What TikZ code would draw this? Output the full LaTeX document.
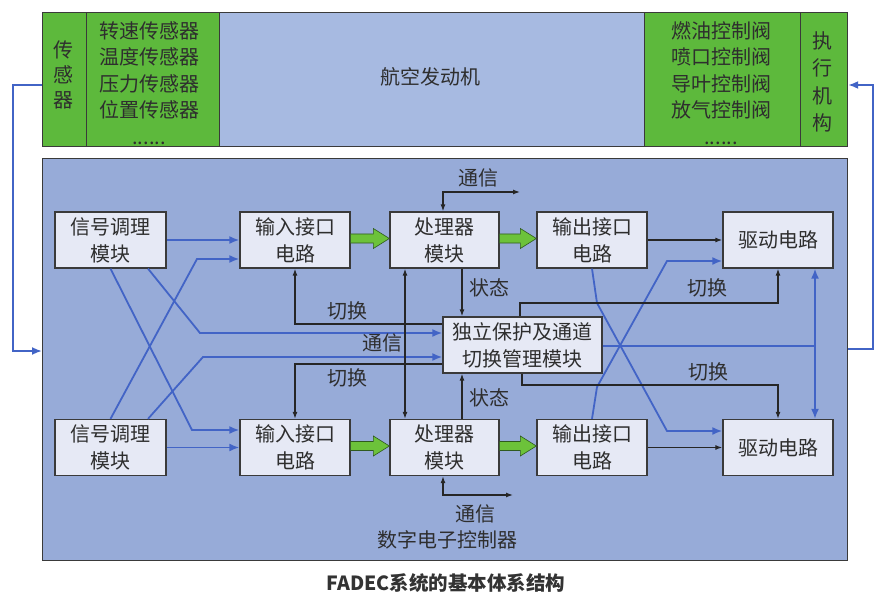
\documentclass[tikz,border=0pt]{standalone}
\usepackage{fontspec}
\setmainfont{Noto Sans CJK SC}
\usetikzlibrary{arrows.meta,calc}
\definecolor{ecublue}{HTML}{97ABD8}
\definecolor{engblue}{HTML}{A7BAE1}
\definecolor{grn}{HTML}{5DB93C}
\definecolor{boxfill}{HTML}{E6E9F5}
\definecolor{lineblue}{HTML}{4264C6}
\definecolor{txt}{HTML}{2E2E2E}
\definecolor{edge}{HTML}{3A3A3A}
\definecolor{garrowfill}{HTML}{6CC23A}
\definecolor{garrowedge}{HTML}{2F5A1F}
\tikzset{
 blk/.style={draw=edge, line width=1.3pt, fill=boxfill, text=txt, align=center,
   font=\fontsize{20}{27}\selectfont, minimum height=56pt, inner sep=0pt},
 band/.style={draw=edge, line width=1.2pt, anchor=north west, inner sep=0pt, minimum height=134pt},
 bl/.style={draw=lineblue, line width=1.8pt, -{Latex[length=10pt,width=8pt]}},
 blb/.style={draw=lineblue, line width=1.8pt, {Latex[length=10pt,width=8pt]}-{Latex[length=10pt,width=8pt]}},
 bln/.style={draw=lineblue, line width=1.8pt},
 bk/.style={draw=black!85, line width=1.2pt, -{Latex[length=7pt,width=5pt]}},
 bkb/.style={draw=black!85, line width=1.2pt, {Latex[length=7pt,width=5pt]}-{Latex[length=7pt,width=5pt]}},
 lbl/.style={text=txt, font=\fontsize{20}{25}\selectfont, inner sep=0pt, align=center},
 garrow/.style={fill=garrowfill, draw=garrowedge, line width=0.6pt},
}
\newcommand\GreenArrow[2]{\path[garrow] let \p1=(#1.east), \p2=(#2.west) in
  (\x1,\y1+6pt) -- (\x2-16pt,\y1+6pt) -- (\x2-16pt,\y1+11.5pt) -- (\x2,\y1+1.5pt)
  -- (\x2-16pt,\y1-8.5pt) -- (\x2-16pt,\y1-3pt) -- (\x1,\y1-3pt) -- cycle;}
\begin{document}
\begin{tikzpicture}[x=1pt,y=-1pt]
\useasboundingbox (0,0) rectangle (878,596);
\fill[white] (0,0) rectangle (878,596);

% top band
\node[band, fill=grn, minimum width=44pt] (sen) at (42,12) {};
\node[band, fill=grn, minimum width=133pt] (senlist) at (86,12) {};
\node[band, fill=engblue, minimum width=425pt] (eng) at (219,12) {};
\node[band, fill=grn, minimum width=156pt] (actlist) at (644,12) {};
\node[band, fill=grn, minimum width=47pt] (act) at (800,12) {};
\node[lbl, font=\fontsize{20}{25}\selectfont] (sentxt) at (63,75) {传\\感\\器};
\node[lbl, font=\fontsize{20}{26.5}\selectfont] (senlisttxt) at (149,83) {转速传感器\\温度传感器\\压力传感器\\位置传感器\\......};
\node[lbl] (engtxt) at (430,77) {航空发动机};
\node[lbl, font=\fontsize{20}{26.5}\selectfont] (actlisttxt) at (721,83) {燃油控制阀\\喷口控制阀\\导叶控制阀\\放气控制阀\\......};
\node[lbl, font=\fontsize{20}{27.5}\selectfont] (acttxt) at (822,82) {执\\行\\机\\构};

% ECU box
\node[draw=edge, line width=1.3pt, fill=ecublue, anchor=north west, inner sep=0pt,
  minimum width=805pt, minimum height=402pt] (ecu) at (42,158) {};
\node[lbl, font=\fontsize{20}{24}\selectfont] (ecutxt) at (447,540) {数字电子控制器};

% blocks top row
\node[blk, minimum width=111pt] (A1) at (110.5,240) {信号调理\\模块};
\node[blk, minimum width=110pt] (I1) at (295,240) {输入接口\\电路};
\node[blk, minimum width=109pt] (P1) at (444.5,240) {处理器\\模块};
\node[blk, minimum width=110pt] (O1) at (592,240) {输出接口\\电路};
\node[blk, minimum width=110pt] (D1) at (778,240) {驱动电路};
% bottom row
\node[blk, minimum width=111pt] (A2) at (110.5,447.5) {信号调理\\模块};
\node[blk, minimum width=110pt] (I2) at (295,447.5) {输入接口\\电路};
\node[blk, minimum width=109pt] (P2) at (444.5,447.5) {处理器\\模块};
\node[blk, minimum width=110pt] (O2) at (592,447.5) {输出接口\\电路};
\node[blk, minimum width=110pt] (D2) at (778,447.5) {驱动电路};
% middle module
\node[blk, minimum width=159pt] (M) at (522.5,345) {独立保护及通道\\切换管理模块};

% green arrows
\GreenArrow{I1}{P1}
\GreenArrow{P1}{O1}
\GreenArrow{I2}{P2}
\GreenArrow{P2}{O2}

% feedback loops
\draw[bl] (sen.west |- 0,85) -- (13,85) -- (13,351) -- (ecu.west |- 0,351);
\draw[bl] (ecu.east |- 0,349) -- (873,349) -- (873,85) -- (act.east |- 0,85);

% blue signal lines (left)
\draw[bl] (A1.east) -- (I1.west);
\draw[bl] (A2.east) -- (I2.west);
\draw[bl] (A2.north) -- (197,259) -- (I1.west |- 0,259);
\draw[bl] (A1.south) -- (192,430) -- (I2.west |- 0,430);
\draw[bl] ($(A1.south)+(37.5,0)$) -- (200,333) -- (M.west |- 0,333);
\draw[bl] ($(A2.north)+(37.5,0)$) -- (203,357) -- (M.west |- 0,357);

% blue lines (right)
\draw[bl] (O1.south) -- (597,303) -- (667,431) -- (D2.west |- 0,431);
\draw[bl] (O2.north) -- (597,387) -- (667,261) -- (D1.west |- 0,261);
\draw[bln] (M.east |- 0,346) -- (815,346);
\draw[blb] (D1.south -| 815,0) -- (D2.north -| 815,0);

% black lines
\draw[bk] (O1.east) -- (D1.west);
\draw[bk] (O2.east) -- (D2.west);
\draw[bkb] (P1.north -| 443,0) |- (520,192);
\draw[bkb] (P2.south -| 443,0) |- (513,495);
\draw[bk] (P1.south -| 462,0) -- (M.north -| 462,0);
\draw[bk] (P2.north -| 462,0) -- (M.south -| 462,0);
\draw[bkb] (P1.south -| 405,0) -- (P2.north -| 405,0);
\draw[bk] (M.west |- 0,324) -| (I1.south);
\draw[bk] (M.west |- 0,364) -| (I2.north);
\draw[bk] (M.north -| 520,0) -- (520,303) -| (D1.south);
\draw[bk] (M.south -| 522,0) -- (522,385) -| (D2.north);

% labels
\node[lbl] (t1) at (478,178) {通信};
\node[lbl] (t2) at (475,514) {通信};
\node[lbl] (s1) at (489,288) {状态};
\node[lbl] (s2) at (489,398) {状态};
\node[lbl] (q1) at (347,311) {切换};
\node[lbl] (q2) at (347,378) {切换};
\node[lbl] (t3) at (382,343) {通信};
\node[lbl] (q3) at (707,288) {切换};
\node[lbl] (q4) at (708,372) {切换};

% caption
\node[text=black!80, font=\fontsize{19.5}{22}\selectfont\bfseries, inner sep=0pt] (cap) at (446,583) {FADEC系统的基本体系结构};
\end{tikzpicture}
\end{document}
